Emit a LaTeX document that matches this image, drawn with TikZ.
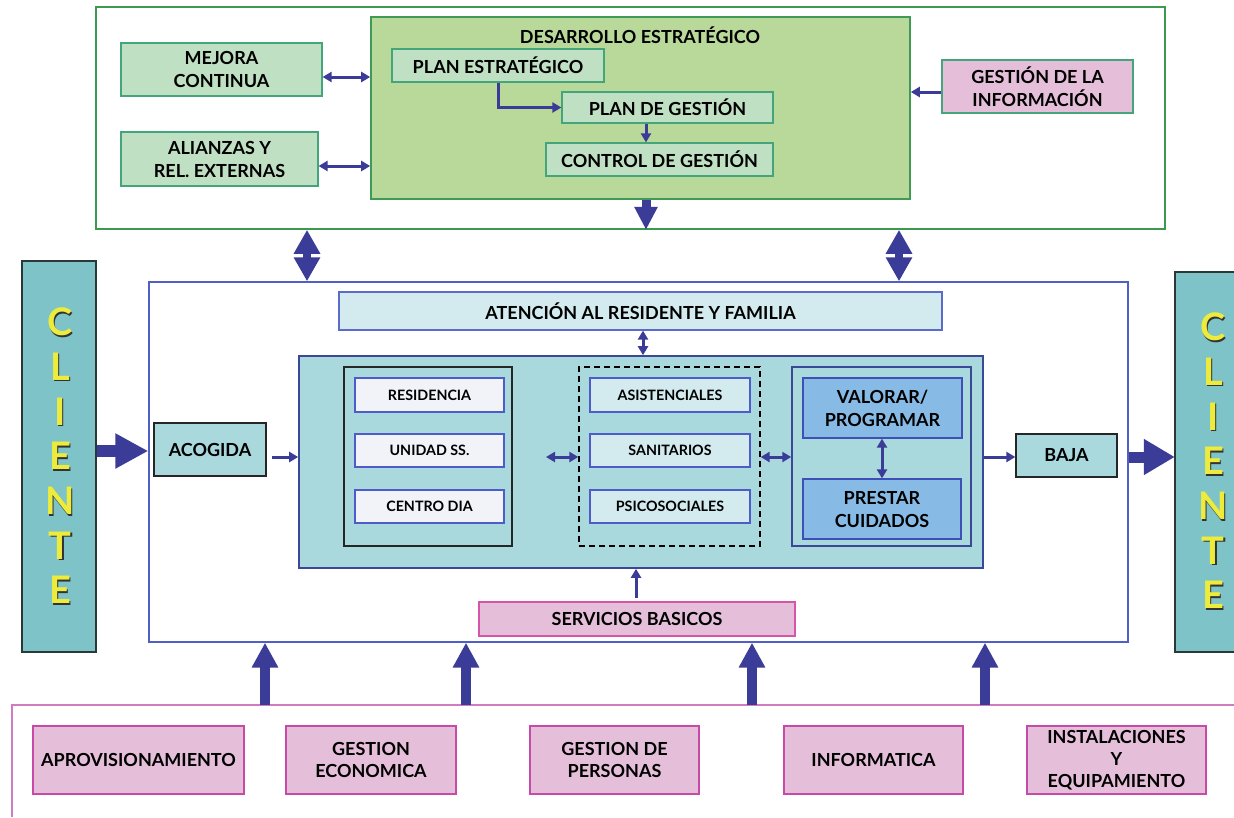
\documentclass[tikz,border=0pt]{standalone}
\usepackage{fontspec}
\setmainfont{Lato}
\usetikzlibrary{arrows.meta}
\definecolor{navy}{HTML}{3B3B98}
\definecolor{tgreen}{HTML}{3C9A50}
\definecolor{desfill}{HTML}{B9D99A}
\definecolor{desdraw}{HTML}{3E9A55}
\definecolor{mintfill}{HTML}{BFE0C3}
\definecolor{mintdraw}{HTML}{44A57A}
\definecolor{pinkfill}{HTML}{E5BFDA}
\definecolor{pinkdraw}{HTML}{D655A8}
\definecolor{botdraw}{HTML}{C84AA8}
\definecolor{botouter}{HTML}{D27CC0}
\definecolor{midborder}{HTML}{4F5FC6}
\definecolor{atenfill}{HTML}{D3EBEF}
\definecolor{atendraw}{HTML}{5B6BCB}
\definecolor{tealfill}{HTML}{A9D8DD}
\definecolor{tealdraw}{HTML}{3B4898}
\definecolor{wfill}{HTML}{F1F3F9}
\definecolor{wdraw}{HTML}{4E5CC9}
\definecolor{valfill}{HTML}{87BBE6}
\definecolor{valdraw}{HTML}{3F4FB8}
\definecolor{clifill}{HTML}{7DC3C7}
\definecolor{clidraw}{HTML}{2B3838}
\definecolor{cliyellow}{HTML}{EDEB3C}
\newcommand\mybox[7]{\node[#6, minimum width={(#4)-(#2)}, minimum height={(#5)-(#3)}] (#1) at ({((#2)+(#4))/2},{((#3)+(#5))/2}) {#7};}
\tikzset{
  base/.style={rectangle, inner sep=1pt, align=center, text=black, font=\bfseries\fontsize{18}{23}\selectfont},
  small/.style={base, font=\bfseries\fontsize{14.3}{17}\selectfont},
  outer/.style={rectangle, inner sep=0pt, line width=1.6pt},
  desbox/.style={outer, fill=desfill, draw=desdraw},
  mint/.style={base, fill=mintfill, draw=mintdraw, line width=1.2pt},
  pinkinfo/.style={base, fill=pinkfill, draw=mintdraw, line width=1.2pt},
  pinkbox/.style={base, fill=pinkfill, draw=pinkdraw, line width=1.2pt},
  botbox/.style={base, font=\bfseries\fontsize{18}{22}\selectfont, fill=pinkfill, draw=botdraw, line width=1.4pt},
  atenbox/.style={base, fill=atenfill, draw=atendraw, line width=1.2pt},
  tealbox/.style={outer, fill=tealfill, draw=tealdraw},
  blackbox/.style={outer, fill=tealfill, draw=black!85, line width=1.3pt},
  dashbox/.style={outer, draw=black, line width=1.3pt, dashed, dash pattern=on 6pt off 4pt},
  navybox/.style={outer, fill=tealfill, draw=tealdraw, line width=1.5pt},
  wbox/.style={small, fill=wfill, draw=wdraw, line width=1.2pt},
  cbox/.style={small, fill=atenfill, draw=wdraw, line width=1.2pt},
  valbox/.style={base, fill=valfill, draw=valdraw, line width=1.3pt},
  tealnode/.style={base, fill=tealfill, draw=black!85, line width=1.3pt},
  clibox/.style={rectangle, inner sep=0pt, fill=clifill, draw=clidraw, line width=1.6pt},
  arr/.style={navy, line width=3pt, -{Triangle[length=9pt,width=10pt]}},
  dbl/.style={navy, line width=3pt, {Triangle[length=9pt,width=10pt]}-{Triangle[length=9pt,width=10pt]}},
  uparr/.style={navy, line width=10pt, -{Triangle[length=25pt,width=25pt]}},
  diam/.style={navy, line width=8pt, {Triangle[length=24pt,width=25pt]}-{Triangle[length=24pt,width=25pt]}},
  clitext/.style={align=center, inner sep=0pt, font=\bfseries\fontsize{38}{44.7}\selectfont},
}
\begin{document}
\begin{tikzpicture}[x=1pt,y=-1pt]
\useasboundingbox (0,0) rectangle (1234,817);
\fill[white] (0,0) rectangle (1234,817);
% ---------------- top section
\mybox{top}{96}{7}{1165}{229}{outer, draw=tgreen}{}
\mybox{des}{371}{17}{910}{199}{desbox}{}
\node[base, anchor=center] (destit) at (640,35) {DESARROLLO ESTRATÉGICO};
\mybox{pe}{392}{49}{604}{82}{mint}{PLAN ESTRATÉGICO}
\mybox{pg}{562}{92}{773}{123}{mint}{PLAN DE GESTIÓN}
\mybox{cg}{546}{143}{773}{176}{mint}{CONTROL DE GESTIÓN}
\mybox{mejora}{121}{43}{322}{96}{mint}{MEJORA\\CONTINUA}
\mybox{alianzas}{121}{132}{318}{186}{mint}{ALIANZAS Y\\REL. EXTERNAS}
\mybox{info}{942}{60}{1133}{113}{pinkinfo}{GESTIÓN DE LA\\INFORMACIÓN}
\draw[dbl] (mejora.east |- 0,77) -- (des.west |- 0,77);
\draw[dbl] (alianzas.east |- 0,166) -- (des.west |- 0,166);
\draw[arr] (info.west |- 0,92) -- (des.east |- 0,92);
\draw[arr] (pe.south) |- (pg.west);
\draw[arr] (pg.south -| 646,0) -- (cg.north -| 646,0);
\draw[navy, line width=9pt, -{Triangle[length=23pt,width=22pt]}] (des.south -| 646,0) -- (top.south -| 646,0);
% ---------------- middle section
\mybox{mid}{149}{282}{1128}{642}{outer, draw=midborder, line width=1.4pt}{}
\draw[diam] (top.south -| 307,0) -- (mid.north -| 307,0);
\draw[diam] (top.south -| 899,0) -- (mid.north -| 899,0);
\mybox{aten}{339}{292}{942}{330}{atenbox}{ATENCIÓN AL RESIDENTE Y FAMILIA}
\mybox{teal}{299}{356}{983}{568}{tealbox}{}
\draw[dbl] (aten.south -| 643,0) -- (teal.north -| 643,0);
\mybox{blk}{344}{367}{512}{546}{blackbox}{}
\mybox{res}{355}{378}{504}{412}{wbox}{RESIDENCIA}
\mybox{uni}{355}{434}{504}{467}{wbox}{UNIDAD SS.}
\mybox{cdia}{355}{490}{504}{523}{wbox}{CENTRO DIA}
\mybox{dsh}{579}{367}{760}{546}{dashbox}{}
\mybox{asi}{590}{378}{750}{412}{cbox}{ASISTENCIALES}
\mybox{san}{590}{434}{750}{467}{cbox}{SANITARIOS}
\mybox{psi}{590}{490}{750}{523}{cbox}{PSICOSOCIALES}
\mybox{rbx}{792}{367}{971}{546}{navybox}{}
\mybox{val}{803}{378}{962}{438}{valbox}{VALORAR/\\PROGRAMAR}
\mybox{pre}{803}{479}{961}{539}{valbox}{PRESTAR\\CUIDADOS}
\draw[dbl] (val.south -| 882,0) -- (pre.north -| 882,0);
\coordinate (blkarr) at (546,457);
\draw[dbl] (blkarr) -- (dsh.west |- 0,457);
\draw[dbl] (dsh.east |- 0,457) -- (rbx.west |- 0,457);
\mybox{acog}{154}{423}{266}{476}{tealnode}{ACOGIDA}
\mybox{baja}{1016}{434}{1117}{477}{tealnode}{BAJA}
\coordinate (acarr) at (272,457);
\draw[arr] (acarr) -- (teal.west |- 0,457);
\draw[arr] (teal.east |- 0,457) -- (baja.west |- 0,457);
\mybox{serv}{479}{602}{795}{636}{pinkbox}{SERVICIOS BASICOS}
\coordinate (servarr) at (636,598);
\draw[arr] (servarr) -- (teal.south -| 636,0);
% ---------------- clients
\mybox{cliL}{22}{261}{96}{652}{clibox}{}
\node[rectangle, inner sep=0pt, fill=clifill, minimum width=59pt, minimum height=380pt] (cliR) at (1204.5,462) {};
\draw[clidraw, line width=1.6pt] (1234,272) -- (1175,272) -- (1175,652) -- (1234,652);
\node[clitext, text=black!80] at (61.5,457.5) {C\\L\\I\\E\\N\\T\\E};
\node[clitext, text=cliyellow] (cliLt) at (60,456) {C\\L\\I\\E\\N\\T\\E};
\node[clitext, text=black!80] at (1214.5,462.5) {C\\L\\I\\E\\N\\T\\E};
\node[clitext, text=cliyellow] (cliRt) at (1213,461) {C\\L\\I\\E\\N\\T\\E};
\draw[navy, line width=12pt, -{Triangle[length=33pt,width=33pt]}] (cliL.east |- 0,451) -- (mid.west |- 0,451);
\draw[navy, line width=11pt, -{Triangle[length=31pt,width=34pt]}] (mid.east |- 0,457) -- (cliR.west |- 0,457);
% ---------------- bottom section
\coordinate (botTL) at (12,705);
\draw[botouter, line width=1.6pt] (1234,705) -- (botTL) -- (12,817);
\mybox{apr}{33}{726}{244}{794}{botbox}{APROVISIONAMIENTO}
\mybox{gec}{286}{726}{456}{794}{botbox}{GESTION\\ECONOMICA}
\mybox{gpe}{530}{726}{699}{794}{botbox}{GESTION DE\\PERSONAS}
\mybox{inf}{784}{726}{963}{794}{botbox}{INFORMATICA}
\mybox{ins}{1027}{726}{1206}{794}{botbox}{INSTALACIONES\\Y\\EQUIPAMIENTO}
\foreach \xx in {265,466,752,985}{
  \draw[uparr] (botTL -| \xx,0) -- (mid.south -| \xx,0);
}
\end{tikzpicture}
\end{document}
